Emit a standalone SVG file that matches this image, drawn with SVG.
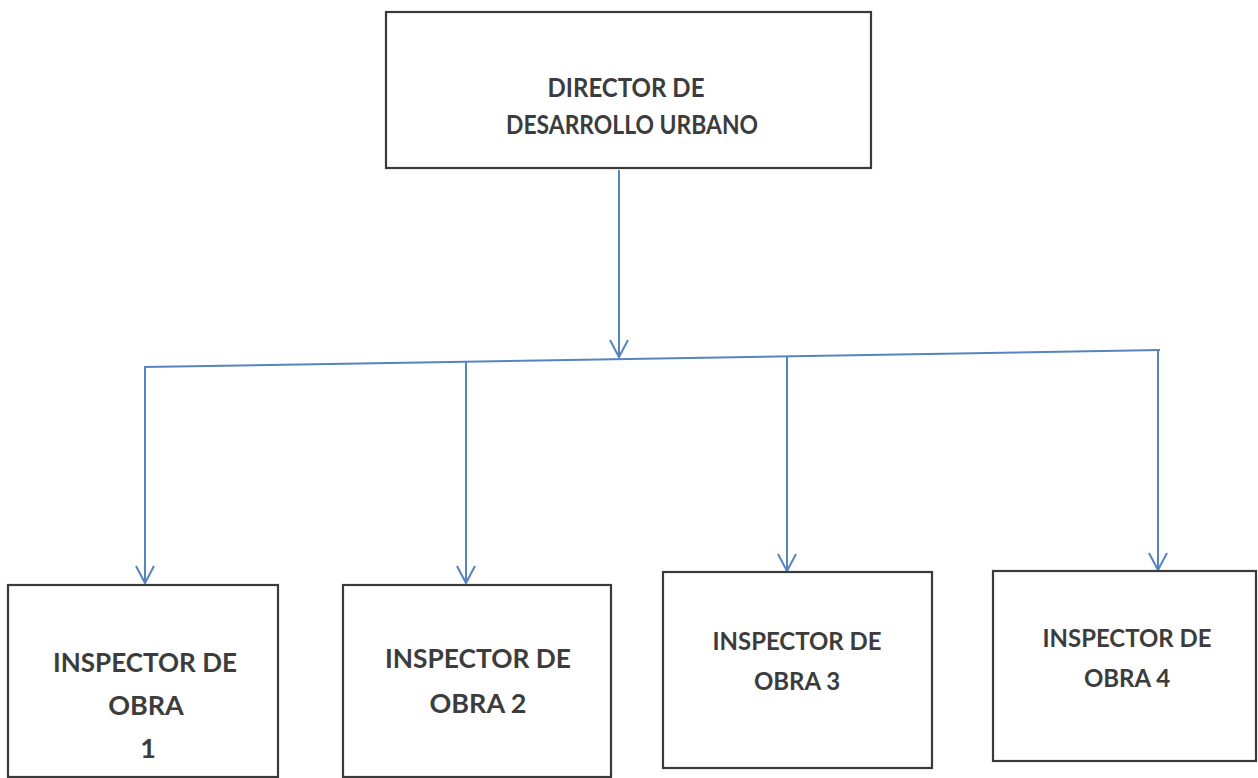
<svg xmlns="http://www.w3.org/2000/svg" width="1258" height="778" viewBox="0 0 1258 778">
<style>
.box{fill:#fff;stroke:#3a3a3a;stroke-width:2.2}
.lbl{font-family:Lato,"Open Sans","Liberation Sans",sans-serif;font-weight:bold;fill:#3c3c3c;text-anchor:middle}
.con{fill:none;stroke:#5585bf;stroke-width:2}
</style>
<defs>
<marker id="arr" markerUnits="userSpaceOnUse" markerWidth="22" markerHeight="22" viewBox="-19 -11 22 22" refX="0" refY="0" orient="auto">
<path d="M-17,-9 L0,0 L-17,9" fill="none" stroke="#5585bf" stroke-width="2"/>
</marker>
</defs>
<rect width="1258" height="778" fill="#fff"/>
<g id="connectors">
<line class="con" x1="619" y1="170" x2="619" y2="357" marker-end="url(#arr)"/>
<line class="con" x1="144" y1="367" x2="1160" y2="350"/>
<line class="con" x1="145" y1="367" x2="145" y2="583" marker-end="url(#arr)"/>
<line class="con" x1="466" y1="362" x2="466" y2="583" marker-end="url(#arr)"/>
<line class="con" x1="787" y1="356" x2="787" y2="571" marker-end="url(#arr)"/>
<line class="con" x1="1158" y1="350" x2="1158" y2="570" marker-end="url(#arr)"/>
</g>
<g id="director">
<rect class="box" x="386" y="12" width="485" height="156"/>
<text class="lbl" font-size="26" x="626" y="97" textLength="157" lengthAdjust="spacingAndGlyphs">DIRECTOR DE</text>
<text class="lbl" font-size="26" x="632" y="134" textLength="252" lengthAdjust="spacingAndGlyphs">DESARROLLO URBANO</text>
</g>
<g id="inspector1">
<rect class="box" x="8" y="585" width="270" height="192"/>
<text class="lbl" font-size="27" x="145" y="672" textLength="184" lengthAdjust="spacingAndGlyphs">INSPECTOR DE</text>
<text class="lbl" font-size="27" x="146" y="715">OBRA</text>
<text class="lbl" font-size="27" x="148" y="758">1</text>
</g>
<g id="inspector2">
<rect class="box" x="343" y="585" width="268" height="192"/>
<text class="lbl" font-size="27" x="478" y="668" textLength="186" lengthAdjust="spacingAndGlyphs">INSPECTOR DE</text>
<text class="lbl" font-size="27" x="478" y="713">OBRA 2</text>
</g>
<g id="inspector3">
<rect class="box" x="663" y="572" width="269" height="196"/>
<text class="lbl" font-size="24" x="797" y="650" textLength="169" lengthAdjust="spacingAndGlyphs">INSPECTOR DE</text>
<text class="lbl" font-size="24" x="797" y="690">OBRA 3</text>
</g>
<g id="inspector4">
<rect class="box" x="993" y="571" width="263" height="190"/>
<text class="lbl" font-size="24" x="1127" y="647" textLength="169" lengthAdjust="spacingAndGlyphs">INSPECTOR DE</text>
<text class="lbl" font-size="24" x="1127" y="687">OBRA 4</text>
</g>
</svg>
